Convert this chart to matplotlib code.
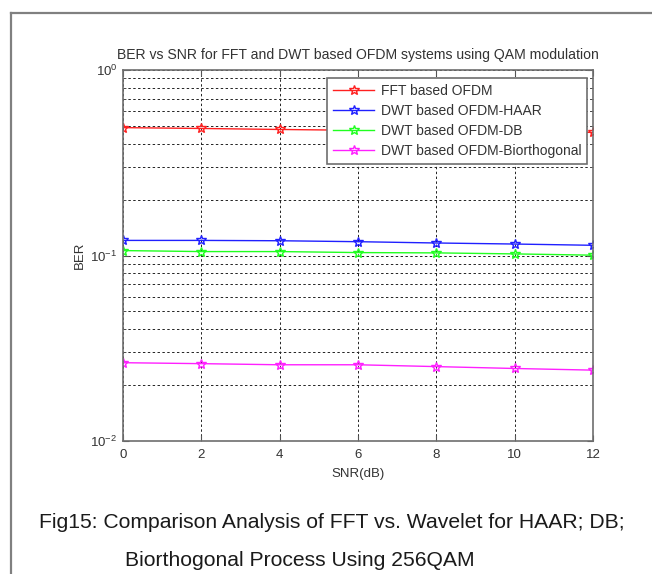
import matplotlib
matplotlib.use("Agg")
import matplotlib.pyplot as plt
from matplotlib.lines import Line2D

plt.rcParams['font.family'] = ['Liberation Sans', 'DejaVu Sans']
plt.rcParams['mathtext.fontset'] = 'custom'
plt.rcParams['mathtext.rm'] = 'Liberation Sans'

snr = [0, 2, 4, 6, 8, 10, 12]
ber_fft = [0.489, 0.484, 0.478, 0.473, 0.469, 0.465, 0.461]
ber_haar = [0.1206, 0.1206, 0.1201, 0.1187, 0.1168, 0.1153, 0.1135]
ber_db = [0.1063, 0.1050, 0.1050, 0.1037, 0.1033, 0.1020, 0.1004]
ber_bio = [0.02643, 0.02612, 0.02576, 0.02576, 0.02518, 0.0246, 0.0241]

labels = ['FFT based OFDM', 'DWT based OFDM-HAAR', 'DWT based OFDM-DB',
          'DWT based OFDM-Biorthogonal']
colors = ['#ff2020', '#2020ff', '#20ff20', '#ff20ff']
xticks = [0, 2, 4, 6, 8, 10, 12]

title = 'BER vs SNR for FFT and DWT based OFDM systems using QAM modulation'
caption1 = 'Fig15: Comparison Analysis of FFT vs. Wavelet for HAAR; DB;'
caption2 = 'Biorthogonal Process Using 256QAM'

W, H = 652, 574
fig = plt.figure(figsize=(W / 100, H / 100), dpi=100)
fig.patch.set_facecolor('white')

L, R, T, B = 123, 593, 70, 441
ax = fig.add_axes([L / W, 1 - B / H, (R - L) / W, (B - T) / H])

for y, lab, c in zip([ber_fft, ber_haar, ber_db, ber_bio], labels, colors):
    ax.plot(snr, y, color=c, lw=1.0, marker='*', markersize=7.5,
            markerfacecolor='none', markeredgecolor=c, markeredgewidth=1.0,
            label=lab)

ax.set_yscale('log')
ax.set_ylim(1e-2, 1)
ax.set_xlim(0, 12)
ax.set_xticks(xticks)
ax.set_xticklabels([str(v) for v in xticks])

grid_kw = dict(color='#222222', linestyle=(0, (2.5, 2.5)), linewidth=0.7)
ax.xaxis.grid(True, which='major', **grid_kw)
ax.yaxis.grid(True, which='both', **grid_kw)

ax.tick_params(which='both', direction='in', top=True, right=True,
               colors='#555555', labelcolor='#333333', labelsize=9.5)
ax.tick_params(which='major', length=4)
ax.tick_params(which='minor', length=2.5)
ax.tick_params(axis='x', which='major', pad=5.5)
ax.tick_params(axis='y', which='major', pad=4)
for s in ax.spines.values():
    s.set_color('#6e6e6e')
    s.set_linewidth(1.2)

ax.set_xlabel('SNR(dB)', fontsize=9.5, color='#333333', labelpad=5)
ax.set_ylabel('BER', fontsize=9.5, color='#333333', labelpad=3.5)

leg = ax.legend(loc='upper right', bbox_to_anchor=(0.987, 0.978),
                borderaxespad=0, fontsize=10, fancybox=False,
                framealpha=1, edgecolor='#6e6e6e', handlelength=3.0,
                labelspacing=0.44, borderpad=0.4, handletextpad=0.45)
leg.get_frame().set_linewidth(1.2)
for t in leg.get_texts():
    t.set_color('#333333')

fig.text(358 / W, 1 - 55 / H, title, ha='center', va='center',
         fontsize=10.1, color='#333333')

fig.text(331.5 / W, 1 - 522 / H, caption1, ha='center', va='center',
         fontsize=15.2, color='#1a1a1a')
fig.text(125 / W, 1 - 560 / H, caption2, ha='left', va='center',
         fontsize=15.2, color='#1a1a1a')

# outer frame (left and top borders)
fig.add_artist(Line2D([10.5 / W, 10.5 / W], [0, 1 - 12.5 / H],
                      transform=fig.transFigure, color='#808080', lw=1.6))
fig.add_artist(Line2D([10.5 / W, 1], [1 - 12.5 / H, 1 - 12.5 / H],
                      transform=fig.transFigure, color='#808080', lw=1.6))

fig.savefig('out.png', dpi=100)
